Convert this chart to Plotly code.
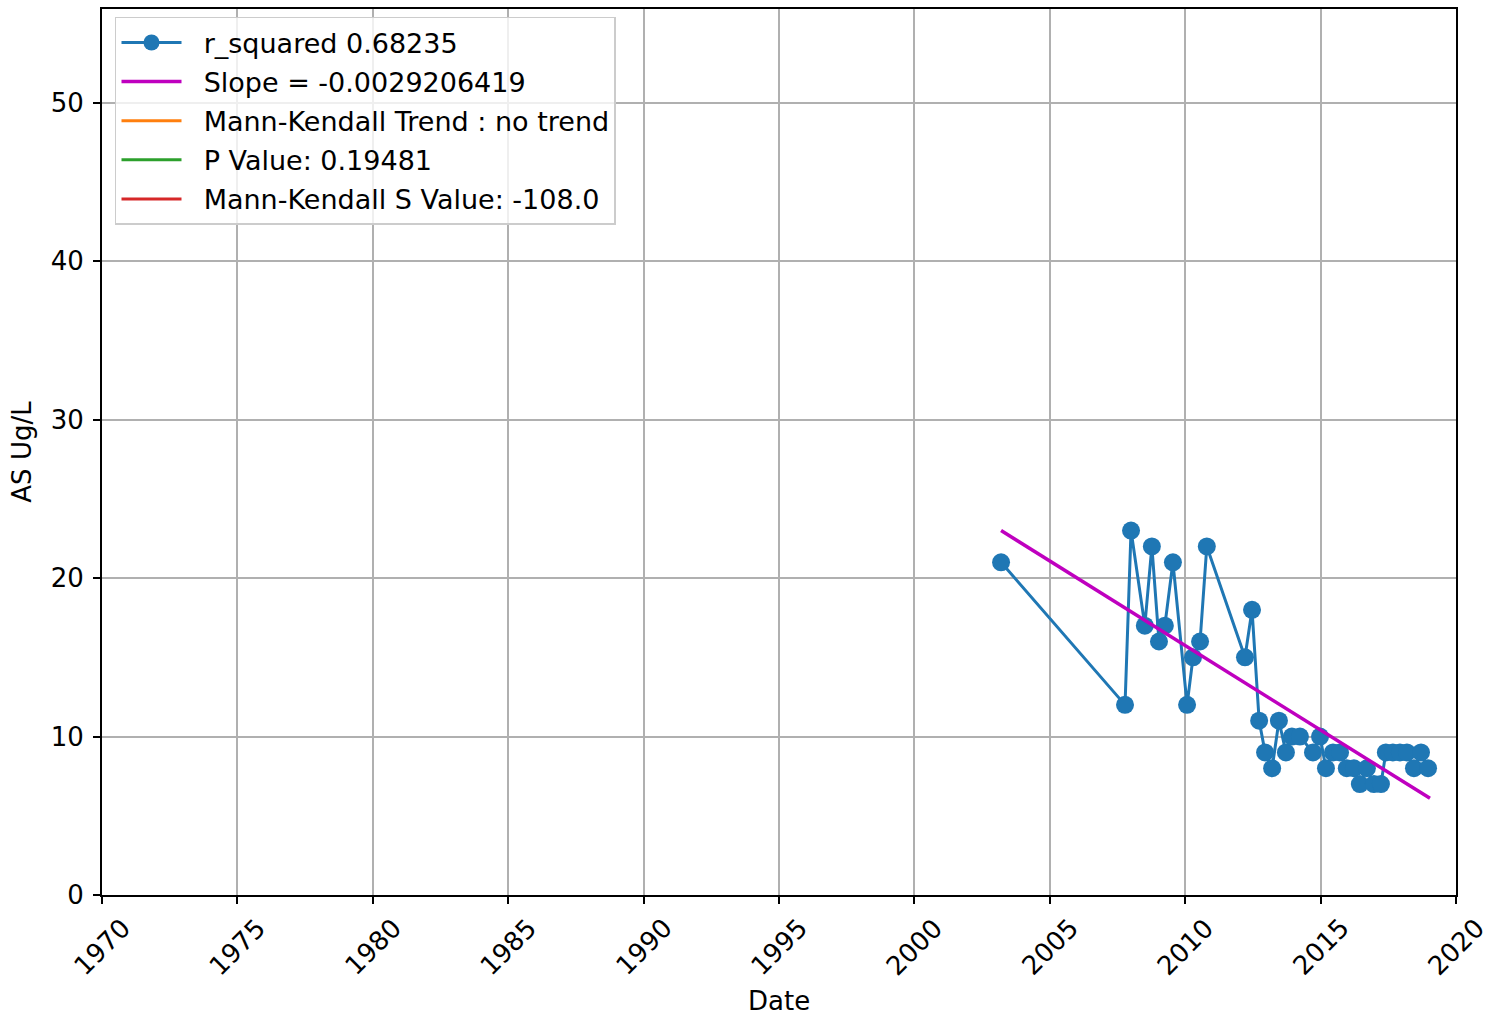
import plotly.graph_objects as go

dates = [
    "2003-03-15", "2007-10-12", "2008-01-01", "2008-07-05", "2008-10-08",
    "2009-01-12", "2009-04-01", "2009-07-19", "2010-01-26", "2010-04-16",
    "2010-07-20", "2010-10-19", "2012-03-17", "2012-06-20", "2012-09-24",
    "2012-12-13", "2013-03-18", "2013-06-18", "2013-09-20", "2013-12-09",
    "2014-03-28", "2014-09-20", "2014-12-24", "2015-03-14", "2015-06-17",
    "2015-09-20", "2015-12-20", "2016-03-25", "2016-06-13", "2016-09-16",
    "2016-12-20", "2017-03-25", "2017-05-30", "2017-09-02", "2017-12-06",
    "2018-03-10", "2018-06-13", "2018-09-16", "2018-12-20",
]
as_values = [
    21, 12, 23, 17, 22,
    16, 17, 21, 12, 15,
    16, 22, 15, 18, 11,
    9, 8, 11, 9, 10,
    10, 9, 10, 8, 9,
    9, 8, 8, 7, 8,
    7, 7, 9, 9, 9,
    9, 8, 9, 8,
]
trend_dates = [dates[0], "2019-01-15"]
trend_values = [23.0, 6.1]

tick_years = [1970, 1975, 1980, 1985, 1990, 1995, 2000, 2005, 2010, 2015, 2020]
y_ticks = [0, 10, 20, 30, 40, 50]

legend_r2 = "r_squared 0.68235"
legend_slope = "Slope = -0.0029206419"
legend_mk = "Mann-Kendall Trend : no trend"
legend_p = "P Value: 0.19481"
legend_s = "Mann-Kendall S Value: -108.0"

FONT = "DejaVu Sans"
PAD = "\u00a0\u00a0"
PLOT_H = 888

fig = go.Figure()
fig.add_trace(go.Scatter(
    x=dates, y=as_values, mode="lines+markers", name=PAD + legend_r2,
    line=dict(color="#1f77b4", width=3),
    marker=dict(color="#1f77b4", size=18), legendgroup="a",
))
fig.add_trace(go.Scatter(
    x=trend_dates, y=trend_values, mode="lines", name=PAD + legend_slope,
    line=dict(color="#bf00bf", width=3.5), legendgroup="b",
))
for nm, col, g in [(legend_mk, "#ff7f0e", "c"), (legend_p, "#2ca02c", "d"), (legend_s, "#d62728", "e")]:
    fig.add_trace(go.Scatter(x=[None], y=[None], mode="lines", name=PAD + nm,
                             line=dict(color=col, width=3), legendgroup=g))

for yr in tick_years:
    fig.add_annotation(
        x=f"{yr}-01-01", y=-52 / PLOT_H, xref="x", yref="paper",
        text=str(yr), textangle=-45, showarrow=False,
        xanchor="center", yanchor="middle",
        font=dict(family=FONT, size=26, color="black"),
    )

fig.add_annotation(
    x=0.5, y=-106 / PLOT_H, xref="paper", yref="paper",
    text="Date", showarrow=False, xanchor="center", yanchor="middle",
    font=dict(family=FONT, size=26, color="black"),
)

fig.update_layout(
    width=1486, height=1017,
    margin=dict(l=102, r=30, t=7, b=122),
    plot_bgcolor="white", paper_bgcolor="white",
    font=dict(family=FONT, size=26, color="black"),
    showlegend=True,
    legend=dict(
        x=0.0096, y=0.991, xanchor="left", yanchor="top",
        bgcolor="rgba(255,255,255,0.8)", bordercolor="#cccccc", borderwidth=1.5,
        font=dict(family=FONT, size=27, color="black"),
        itemwidth=60, traceorder="grouped", tracegroupgap=1,
    ),
    xaxis=dict(
        type="date", range=["1970-01-01", "2020-01-01"],
        tickvals=[f"{y}-01-01" for y in tick_years],
        showticklabels=False,
        showgrid=True, gridcolor="#b0b0b0", gridwidth=1.6,
        showline=True, linecolor="black", linewidth=2, mirror=True,
        ticks="outside", ticklen=7, tickwidth=1.6, tickcolor="black",
        zeroline=False,
    ),
    yaxis=dict(
        range=[0, 55.92], tickvals=y_ticks,
        showgrid=True, gridcolor="#b0b0b0", gridwidth=1.6,
        showline=True, linecolor="black", linewidth=2, mirror=True,
        ticks="outside", ticklen=7, tickwidth=1.6, tickcolor="black",
        zeroline=False, ticklabelstandoff=4,
        tickfont=dict(family=FONT, size=26),
        title=dict(text="AS Ug/L", font=dict(family=FONT, size=26), standoff=12),
    ),
)

fig.write_html("out.html", config={"displayModeBar": False},
               post_script="document.body.style.margin='0';")
